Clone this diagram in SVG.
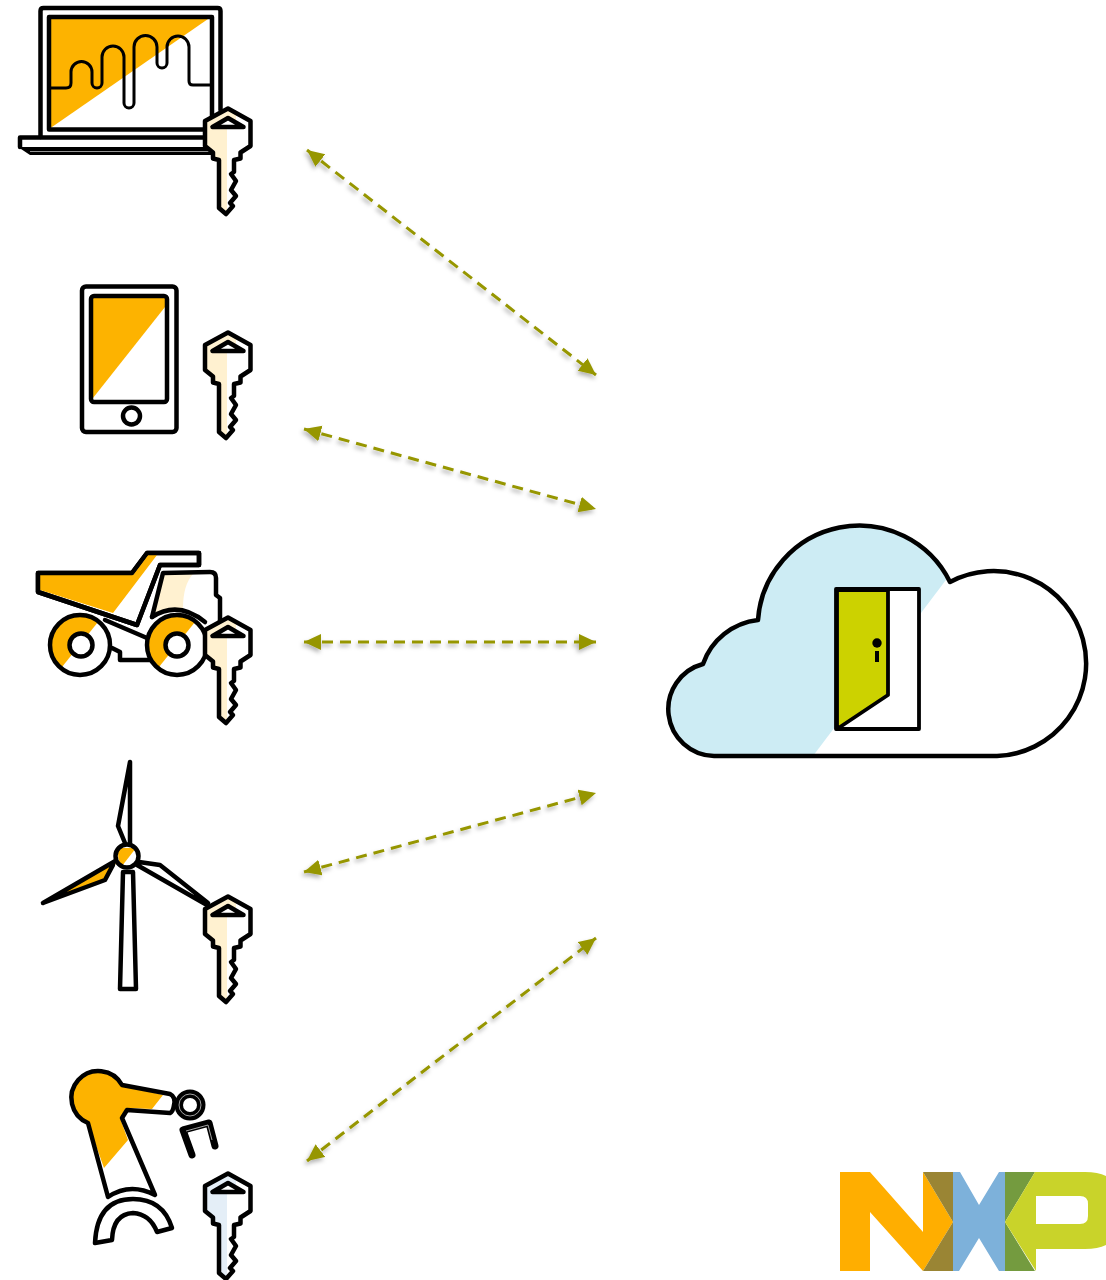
<svg xmlns="http://www.w3.org/2000/svg" width="1106" height="1280" viewBox="0 0 1106 1280">
<style>
.k{fill:none;stroke:#000;stroke-width:4.5;stroke-linejoin:round;stroke-linecap:round}
.w{fill:#fff;stroke:#000;stroke-width:4.5;stroke-linejoin:round;stroke-linecap:round}
.y{fill:#FDB300;stroke:none}
.c{fill:#FFF1D0;stroke:none}
.t{fill:none;stroke:#000;stroke-width:3;stroke-linejoin:round}
.tri{fill:#fff;stroke:#000;stroke-width:4.5;stroke-linejoin:round}
.arrow{stroke:#969600;stroke-width:3;stroke-dasharray:11 7;fill:none;marker-start:url(#tip);marker-end:url(#tip)}
</style>
<defs>
<marker id="tip" markerUnits="userSpaceOnUse" markerWidth="20" markerHeight="18" refX="17" refY="8" orient="auto-start-reverse"><path d="M0,0L17,8L0,16Z" fill="#969600"/></marker>
<filter id="sh" x="-10%" y="-10%" width="120%" height="120%"><feDropShadow dx="-1.5" dy="3" stdDeviation="2" flood-color="#000" flood-opacity="0.3"/></filter>
<path id="ko" d="M0,2.500L22.500,15V40L12.500,46.500V52.500L6,54V66L3,68L8,75L3,84L8,90L2,97L5,100L-2,108L-9,102V54L-15,52.500V46.500L-23,40V15Z"/>
<g id="key"><use href="#ko" fill="#fff"/><path class="c" d="M0,2.500L8,7V20H-1V105L-9,102V54L-15,52.500V46.500L-23,40V15Z"/><use href="#ko" class="k"/><path class="tri" d="M0,12L-15.500,21H15.500Z"/></g>
<g id="keyb"><use href="#ko" fill="#fff"/><path fill="#E4EEF7" d="M0,2.500L8,7V20H-1V105L-9,102V54L-15,52.500V46.500L-23,40V15Z"/><use href="#ko" class="k"/><path class="tri" d="M0,12L-15.500,21H15.500Z"/></g>
<clipPath id="cl"><path d="M714,756A46.800,46.800 0 0 1 703,664A66,66 0 0 1 758,620A101.400,101.400 0 0 1 950,582A92.500,92.500 0 1 1 997,756Z"/></clipPath>
</defs>
<g id="connectors" filter="url(#sh)">
<path class="arrow" d="M307,150L596,375"/>
<path class="arrow" d="M304,429L596,509"/>
<path class="arrow" d="M304,642L596,642"/>
<path class="arrow" d="M304,872L596,793"/>
<path class="arrow" d="M307,1161L596,938"/>
</g>
<g id="laptop">
<path class="y" d="M50,19H208L52,127H50Z"/>
<path class="k" d="M40.500,137V11Q40.500,8 43.500,8H217.500Q220.500,8 220.500,11V110"/>
<rect x="49" y="17" width="163" height="112.500" class="k"/>
<path class="k" d="M20,137.500H208M20,137.500V147"/>
<path d="M18,147H212V155H30Z"/>
<path d="M30,151.500H210" stroke="#bbb" stroke-width="0.800" fill="none"/>
<path class="t" d="M50,88H66Q71,88 71,83V72A10.500,10.500 0 0 1 92,72V83A5,5 0 0 0 102,83V57A11,11 0 0 1 124,57V103A5,5 0 0 0 134,103V47A11.500,11.500 0 0 1 157,47V63A5,5 0 0 0 167,63V47A11,11 0 0 1 189,47V81Q189,85 193,85H211"/>
<use href="#key" x="228" y="106"/>
</g>
<g id="tablet">
<rect x="82" y="286.500" width="94.500" height="145.500" rx="4" fill="#fff" stroke="#000" stroke-width="4.500"/>
<path class="y" d="M93,298H165V307L93,398Z"/>
<rect x="91" y="296" width="76" height="106" rx="3" fill="none" stroke="#000" stroke-width="4.500"/>
<circle cx="131.500" cy="416" r="8.500" fill="#fff" stroke="#000" stroke-width="4.500"/>
<use href="#key" x="228" y="330"/>
</g>
<g id="truck">
<path class="w" d="M38,573H132L147,553H199V565H160L137,625L38,592Z"/>
<path class="y" d="M40,575H133L148,555H157L113,613L40,590Z"/>
<path class="k" d="M38,573H132L147,553H199V565H160L137,625L38,592Z"/>
<path class="c" d="M164,574H193Q183,585 183,608Q165,608 154,615Z"/>
<path class="k" d="M152,617L163,573L210,572Q216,572 216,578V595L220,598V622"/>
<path class="k" d="M152,617Q178,600 205,622"/>
<path class="k" d="M105,620L147,638M112,648L120,652V660H150"/>
<circle cx="80" cy="645" r="30" fill="#fff"/><path class="y" d="M98,622A30,30 0 0 0 52,635A30,30 0 0 0 62,667Z"/>
<circle cx="80" cy="645" r="30" class="k"/><circle cx="81" cy="645" r="11.500" class="w"/>
<circle cx="177" cy="645" r="30" fill="#fff"/><path class="y" d="M195,622A30,30 0 0 0 149,635A30,30 0 0 0 159,667Z"/>
<circle cx="177" cy="645" r="30" class="k"/><circle cx="177" cy="645" r="11.500" class="w"/>
<use href="#key" x="228" y="615"/>
</g>
<g id="turbine">
<path class="k" d="M130,762V845M130,762L118,826L125,843"/>
<path class="y" d="M117,862L105,880L52,898Z"/>
<path class="k" d="M43,903L117,860M43,903L105,880L113,865"/>
<path class="k" d="M139,862L160,865L208,903M137,865L207,905"/>
<path class="w" d="M123,872H133L136,989H120Z"/>
<circle cx="127" cy="856" r="11.500" fill="#fff"/>
<path class="y" d="M119,848H136L122,866Q116,858 119,848Z"/>
<circle cx="127" cy="856" r="11.500" class="k"/>
<use href="#key" x="228" y="894"/>
</g>
<g id="robot">
<path fill="#fff" d="M108,1197L88,1123A27,27 0 1 1 122,1085L170,1094Q176,1097 174,1105Q173,1112 170,1113L127,1110L122,1118L155,1195Q130,1182 108,1197Z"/>
<path class="y" d="M104,1168L88,1123A27,27 0 1 1 122,1085L163,1095L152,1109L126,1108L120,1118L128,1140Z"/>
<path class="k" d="M108,1197L88,1123A27,27 0 1 1 122,1085L170,1094Q176,1097 174,1105Q173,1112 170,1113L127,1110L122,1118L155,1195Q130,1182 108,1197Z"/>
<circle cx="190" cy="1105" r="15.500"/>
<circle cx="190" cy="1105" r="11" fill="none" stroke="#ccc" stroke-width="0.800"/>
<circle cx="190" cy="1105" r="7" fill="#fff"/>
<path d="M192,1155L183,1130L209,1123L215,1146" fill="none" stroke="#000" stroke-width="7" stroke-linejoin="round" stroke-linecap="round"/>
<path d="M186,1131L208,1125L212,1140" fill="none" stroke="#ccc" stroke-width="0.800"/>
<path d="M95,1243Q97,1199 133,1199Q163,1199 172,1228L157,1232Q150,1214 133,1213Q113,1214 112,1240Z" class="w"/>
<use href="#keyb" x="228" y="1171"/>
</g>
<g id="cloud">
<path d="M714,756A46.800,46.800 0 0 1 703,664A66,66 0 0 1 758,620A101.400,101.400 0 0 1 950,582A92.500,92.500 0 1 1 997,756Z" fill="#fff"/>
<path clip-path="url(#cl)" fill="#CDECF4" d="M660,515H995L813,756H660Z"/>
<path class="k" d="M714,756A46.800,46.800 0 0 1 703,664A66,66 0 0 1 758,620A101.400,101.400 0 0 1 950,582A92.500,92.500 0 1 1 997,756Z"/>
<rect x="836" y="589" width="83" height="140" fill="#fff" stroke="#000" stroke-width="3.800" stroke-linejoin="round"/>
<path d="M837,590H888V695L837,729Z" fill="#CCD200" stroke="#000" stroke-width="3.800" stroke-linejoin="round"/>
<circle cx="877" cy="643" r="4.700"/><rect x="875" y="651" width="4" height="11"/>
</g>
<g id="logo">
<path fill="#FFAE00" d="M840,1172H870L923,1232V1172L953,1222L923,1271L870,1212V1271H840Z"/>
<path fill="#9A8534" d="M923,1172H953V1222ZM953,1222V1271H923Z"/>
<path fill="#7DB1DA" d="M953,1172H960L979,1205L999,1172H1005V1271H999L979,1238L959,1271H953Z"/>
<path fill="#749B3F" d="M1005,1172H1035L1005,1222L1035,1271H1005Z"/>
<path fill="#C9D32A" fill-rule="evenodd" d="M1035,1172H1085Q1098,1172 1106,1176V1245Q1098,1249 1085,1249H1036V1271L1005,1222ZM1036,1196V1224H1080Q1088,1224 1088,1216V1204Q1088,1196 1080,1196Z"/>
</g>
</svg>
